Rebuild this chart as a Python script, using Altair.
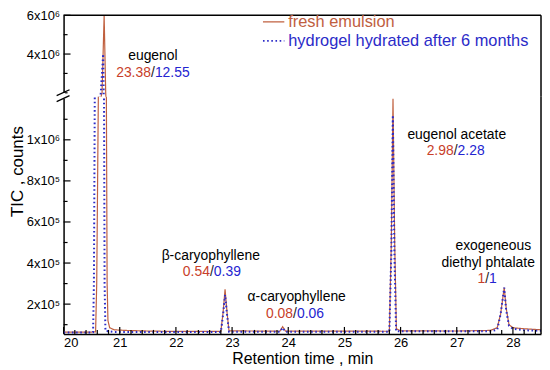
import altair as alt
import pandas as pd

# ---------------- data ----------------
fresh_t = [20.00, 20.50, 20.57, 20.59, 20.62, 20.685, 20.722, 20.75, 20.765, 20.775,
           20.79, 20.82, 20.90, 21.10, 21.50, 22.00, 22.80, 22.84, 22.875, 22.91,
           22.945, 23.85, 23.90, 23.95, 25.80, 25.835, 25.865, 25.895, 25.925, 26.00,
           27.00, 27.60, 27.72, 27.78, 27.845, 27.88, 27.93, 28.00, 28.20, 28.50]
fresh_v = [6.4e4, 6.4e4, 6.5e4, 3.0e5, 1.25e6, 2.0e6, 6.0e6, 2.0e6, 1.0e6, 3.0e5,
           1.2e5, 8.5e4, 7.5e4, 7.2e4, 6.9e4, 6.7e4, 6.7e4, 1.6e5, 2.72e5, 1.6e5,
           7.0e4, 6.8e4, 9.0e4, 6.9e4, 6.8e4, 5.0e5, 1.2e6, 5.0e5, 8.0e4, 7.0e4,
           6.9e4, 7.2e4, 8.5e4, 1.5e5, 2.8e5, 1.8e5, 1.0e5, 8.5e4, 8.0e4, 7.5e4]

hydro_t = [20.00, 20.50, 20.525, 20.54, 20.555, 20.66, 20.705, 20.715, 20.72, 20.73,
           20.745, 20.90, 22.80, 22.84, 22.875, 22.91, 22.945, 23.85, 23.90, 23.95,
           25.80, 25.835, 25.862, 25.89, 25.92, 27.60, 27.72, 27.78, 27.845, 27.88,
           27.93, 28.00, 28.20, 28.50]
hydro_v = [6.2e4, 6.2e4, 6.3e4, 3.0e5, 1.2e6, 1.9e6, 4.0e6, 1.9e6, 1.2e6, 3.0e5,
           7.0e4, 6.4e4, 6.4e4, 1.5e5, 2.45e5, 1.5e5, 6.6e4, 6.5e4, 8.5e4, 6.5e4,
           6.5e4, 4.5e5, 1.12e6, 4.5e5, 6.8e4, 6.8e4, 7.5e4, 1.5e5, 2.8e5, 1.7e5,
           9.5e4, 8.0e4, 7.3e4, 7.0e4]

series_names = ["fresh emulsion", "hydrogel hydrated after 6 months"]
series_colors = ["#c0603f", "#2b2bc8"]

x_major = [20, 21, 22, 23, 24, 25, 26, 27, 28]
x_minor = [20.2, 20.4, 20.6, 20.8, 21.2, 21.4, 21.6, 21.8, 22.2, 22.4, 22.6, 22.8,
           23.2, 23.4, 23.6, 23.8, 24.2, 24.4, 24.6, 24.8, 25.2, 25.4, 25.6, 25.8,
           26.2, 26.4, 26.6, 26.8, 27.2, 27.4, 27.6, 27.8, 28.2, 28.4]
up_major = [4e6, 6e6]
up_minor = [2e6, 3e6, 5e6]
low_major = [2e5, 4e5, 6e5, 8e5, 1e6]
low_minor = [1e5, 3e5, 5e5, 7e5, 9e5, 1.1e6]
up_labels = {4e6: "4x10⁶", 6e6: "6x10⁶"}
low_labels = {2e5: "2x10⁵", 4e5: "4x10⁵", 6e5: "6x10⁵", 8e5: "8x10⁵", 1e6: "1x10⁶"}

# peak annotations
ann_names = ["eugenol", "β-caryophyllene", "α-caryophyllene", "eugenol acetate"]
ann_t = [21.59, 22.64, 24.12, 26.98]
ann_name_v = [3.9e6, 4.36e5, 2.34e5, 1.024e6]
ann_num_v = [3.03e6, 3.54e5, 1.52e5, 9.47e5]
ann_red = ["23.38", "0.54", "0.08", "2.98"]
ann_blue = ["12.55", "0.39", "0.06", "2.28"]
ann_panel = ["up", "low", "low", "low"]
ann_name_dt = [0.0, -0.02, 0.03, 0.02]

dep_lines = ["exogeneous", "diethyl phtalate"]
dep_t = [27.65, 27.56]
dep_v = [4.84e5, 4.02e5]
dep_num_t = 27.54
dep_num_v = 3.2e5

# ---------------- build ----------------
FONT = "Liberation Sans"
RED = "#c8402a"
BLUE = "#2424d0"
W = 481
H_UP = 82
H_LOW = 239

lines = pd.concat([
    pd.DataFrame({"t": fresh_t, "v": fresh_v, "s": series_names[0]}),
    pd.DataFrame({"t": hydro_t, "v": hydro_v, "s": series_names[1]}),
])

xs = alt.Scale(domain=[20, 28.5], nice=False, zero=False)
ys_up = alt.Scale(domain=[1.8e6, 6e6], nice=False, zero=False)
ys_low = alt.Scale(domain=[5.5e4, 1.21e6], nice=False, zero=False)


def label_expr(d):
    parts = " : ".join(f"datum.value == {k} ? '{v}'" for k, v in d.items())
    return parts + " : ''"


up_axis = alt.Axis(values=up_major, labelExpr=label_expr(up_labels), title=None, ticks=False,
                   labelFont=FONT, labelFontSize=13, labelColor="black", labelPadding=4,
                   domainColor="black", domainWidth=1.5, grid=False)
low_axis = alt.Axis(values=low_major, labelExpr=label_expr(low_labels), title="TIC , counts",
                    ticks=False, labelFont=FONT, labelFontSize=13, labelColor="black", labelPadding=4,
                    domainColor="black", domainWidth=1.5, grid=False,
                    titleFont=FONT, titleFontSize=17, titleFontWeight="normal", titleColor="black",
                    titleX=-37, titleY=75)
x_axis = alt.Axis(values=x_major, title="Retention time , min", ticks=False, labelFont=FONT,
                  labelFontSize=13, labelColor="black", labelPadding=3, domainColor="black",
                  domainWidth=1.5, grid=False, titleFont=FONT, titleFontSize=16,
                  titleFontWeight="normal", titleColor="black", titlePadding=1, format="d")

PANEL = {
    "up": dict(ys=ys_up, yaxis=up_axis, xaxis=None),
    "low": dict(ys=ys_low, yaxis=low_axis, xaxis=x_axis),
}


def X(field, p):
    return alt.X(field, scale=xs, axis=PANEL[p]["xaxis"])


def Y(field, p):
    return alt.Y(field, scale=PANEL[p]["ys"], axis=PANEL[p]["yaxis"])


dash_scale = alt.Scale(domain=series_names, range=[[1, 0], [1.6, 2.6]])
width_scale = alt.Scale(domain=series_names, range=[1.2, 2.0])
color_scale = alt.Scale(domain=series_names, range=series_colors)


def line_layer(p):
    return alt.Chart(lines).mark_line(clip=True).encode(
        x=X("t:Q", p), y=Y("v:Q", p),
        color=alt.Color("s:N", scale=color_scale, legend=None),
        strokeDash=alt.StrokeDash("s:N", scale=dash_scale, legend=None),
        strokeWidth=alt.StrokeWidth("s:N", scale=width_scale, legend=None),
        order=alt.Order("t:Q"),
    )


def yticks(vals, p, length):
    return alt.Chart(pd.DataFrame({"v": vals})).mark_rule(color="black", strokeWidth=1.2).encode(
        y=Y("v:Q", p), x=alt.value(0), x2=alt.value(length))


def xticks(vals, length):
    return alt.Chart(pd.DataFrame({"t": vals})).mark_rule(color="black", strokeWidth=1.2).encode(
        x=X("t:Q", "low"), y=alt.value(H_LOW), y2=alt.value(H_LOW - length))


def frame_rule(**kw):
    return alt.Chart(pd.DataFrame({"a": [0]})).mark_rule(color="black", strokeWidth=1.5).encode(**kw)


def ann_layers(p):
    rows_name, rows_num = [], []
    for i in range(len(ann_names)):
        if ann_panel[i] != p:
            continue
        rows_name.append({"t": ann_t[i] + ann_name_dt[i], "v": ann_name_v[i], "txt": ann_names[i]})
        rows_num.append({"t": ann_t[i], "v": ann_num_v[i], "red": ann_red[i], "blue": ann_blue[i]})
    if p == "low":
        for k in range(len(dep_lines)):
            rows_name.append({"t": dep_t[k], "v": dep_v[k], "txt": dep_lines[k]})
        rows_num.append({"t": dep_num_t, "v": dep_num_v, "red": "1", "blue": "1"})
    dn = pd.DataFrame(rows_name)
    dm = pd.DataFrame(rows_num)
    names = alt.Chart(dn).mark_text(font=FONT, fontSize=14, color="black", align="center").encode(
        text="txt:N", x=X("t:Q", p), y=Y("v:Q", p))
    slash = alt.Chart(dm).mark_text(font=FONT, fontSize=14, color="#222222", align="center").encode(
        text=alt.value("/"), x=X("t:Q", p), y=Y("v:Q", p))
    red = alt.Chart(dm).mark_text(font=FONT, fontSize=14, color=RED, align="right", dx=-2).encode(
        text="red:N", x=X("t:Q", p), y=Y("v:Q", p))
    blue = alt.Chart(dm).mark_text(font=FONT, fontSize=14, color=BLUE, align="left", dx=2).encode(
        text="blue:N", x=X("t:Q", p), y=Y("v:Q", p))
    return [names, slash, red, blue]


# legend drawn inside the upper panel
leg = pd.DataFrame({
    "t0": [23.55, 23.55], "t1": [23.93, 23.93], "tt": [24.0, 24.0],
    "v": [5.66e6, 4.68e6], "s": series_names,
})
leg_lines = alt.Chart(leg).mark_rule().encode(
    x=X("t0:Q", "up"), x2="t1:Q", y=Y("v:Q", "up"),
    color=alt.Color("s:N", scale=color_scale, legend=None),
    strokeDash=alt.StrokeDash("s:N", scale=dash_scale, legend=None),
    strokeWidth=alt.StrokeWidth("s:N", scale=width_scale, legend=None),
)
leg_text = alt.Chart(leg).mark_text(font=FONT, fontSize=16.5, align="left", baseline="middle").encode(
    x=X("tt:Q", "up"), y=Y("v:Q", "up"), text="s:N",
    color=alt.Color("s:N", scale=alt.Scale(domain=series_names, range=["#d42a2a", BLUE]), legend=None),
)

upper = alt.layer(
    line_layer("up"),
    yticks(up_major, "up", 7), yticks(up_minor, "up", 4),
    frame_rule(x=alt.value(0), x2=alt.value(W), y=alt.value(0)),
    frame_rule(x=alt.value(W), y=alt.value(0), y2=alt.value(H_UP)),
    leg_lines, leg_text,
    *ann_layers("up"),
).properties(width=W, height=H_UP)

brk = pd.DataFrame({"a": [0]})
lower = alt.layer(
    line_layer("low"),
    yticks(low_major, "low", 7), yticks(low_minor, "low", 4),
    xticks(x_major, 7), xticks(x_minor, 4),
    frame_rule(x=alt.value(W), y=alt.value(0), y2=alt.value(H_LOW)),
    alt.Chart(brk).mark_rule(color="white", strokeWidth=3).encode(
        x=alt.value(0), y=alt.value(-4), y2=alt.value(2)),
    alt.Chart(brk).mark_rule(color="black", strokeWidth=1.3).encode(
        x=alt.value(-7), y=alt.value(-1), x2=alt.value(6), y2=alt.value(-7)),
    alt.Chart(brk).mark_rule(color="black", strokeWidth=1.3).encode(
        x=alt.value(-7), y=alt.value(5), x2=alt.value(6), y2=alt.value(-1)),
    *ann_layers("low"),
).properties(width=W, height=H_LOW)

chart = alt.vconcat(upper, lower, spacing=0, bounds="flush").properties(
    padding={"left": 0, "top": 0, "right": 0, "bottom": 0},
    background="white",
).configure_view(stroke=None, strokeWidth=0)

chart.save("out.html", embed_options={"renderer": "svg", "actions": False})
